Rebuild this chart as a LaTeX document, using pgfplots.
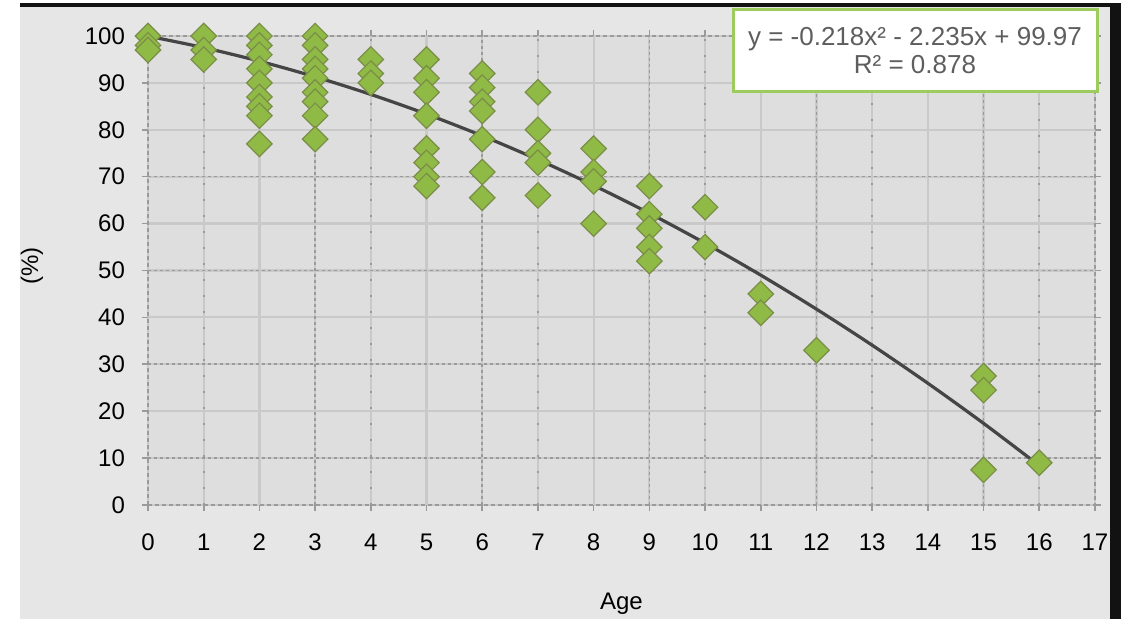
\documentclass[border=0pt]{standalone}
\usepackage{fontspec}
\setmainfont{Liberation Sans}
\usepackage{pgfplots}
\pgfplotsset{compat=1.18}
\definecolor{bgout}{HTML}{E6E6E6}
\definecolor{plotbg}{HTML}{DEDEDE}
\definecolor{gridlt}{HTML}{C9C9C9}
\definecolor{griddk}{HTML}{9A9A9A}
\definecolor{mkfill}{HTML}{8FBA46}
\definecolor{mkdraw}{HTML}{7A8E48}
\definecolor{boxgreen}{HTML}{9CCB5E}
\definecolor{eqtext}{HTML}{5E5E5E}
\definecolor{trend}{HTML}{454545}

\begin{document}
\begin{tikzpicture}
\clip (0pt,0pt) rectangle (566pt,309.5pt);
\fill[white] (0pt,0pt) rectangle (566pt,309.5pt);
\fill[bgout] (10pt,0pt) rectangle (555pt,306pt);
\fill[black!93] (10pt,306pt) rectangle (560.5pt,308pt);
\fill[black!93] (555pt,0pt) rectangle (560.5pt,308pt);
\begin{axis}[at={(74pt,57pt)}, anchor=south west, scale only axis,
  width=473.5pt, height=234.5pt,
  xmin=0, xmax=17, ymin=0, ymax=100,
  xtick={0,...,17}, ytick={0,10,...,100},
  grid=major, major grid style={gridlt, line width=1.1pt},
  axis background/.style={fill=plotbg},
  axis line style={griddk, dash pattern=on 2pt off 1.5pt, line width=1pt},
  tick style={griddk, line width=0.8pt}, major tick length=3pt, tick align=outside,
  ticklabel style={font=\fontsize{12}{14}\selectfont},
  xticklabel style={yshift=-8pt}, yticklabel style={xshift=-5pt},
  /pgf/number format/assume math mode=true,
  xlabel={Age}, ylabel={(\%)},
  label style={font=\fontsize{12}{14}\selectfont},
  xlabel style={at={(axis description cs:0.5,-0.238)}, anchor=south, inner sep=1pt},
  ylabel style={at={(axis description cs:-0.1225,0.51)}, anchor=center},
  clip=false]
% darker dashed grid lines over the light ones
\pgfplotsinvokeforeach{3,6,9,12,15}{\draw[griddk, dash pattern=on 1.5pt off 1.5pt, line width=0.8pt] (axis cs:#1,0) -- (axis cs:#1,100);}
\pgfplotsinvokeforeach{10,30,50,70}{\draw[griddk, dash pattern=on 1.5pt off 1.5pt, line width=0.8pt] (axis cs:0,#1) -- (axis cs:17,#1);}
\pgfplotsinvokeforeach{1,4,7,10,13,16}{\draw[griddk, dash pattern=on 1pt off 7pt, line width=0.8pt] (axis cs:#1,0) -- (axis cs:#1,100);}
\addplot[only marks, mark=square*, mark size=4.5pt,
  mark options={rotate=45, fill=mkfill, draw=mkdraw, line width=0.6pt}]
  coordinates {
  (0,100) (0,98) (0,97)
  (1,100) (1,97) (1,95)
  (2,100) (2,98) (2,96) (2,93) (2,90) (2,87) (2,85) (2,83) (2,77)
  (3,100) (3,98) (3,95) (3,93) (3,91) (3,88) (3,86) (3,83) (3,78)
  (4,95) (4,92) (4,90)
  (5,95) (5,91) (5,88) (5,83) (5,76) (5,73) (5,70) (5,68)
  (6,92) (6,89) (6,86) (6,84) (6,78) (6,71) (6,65.5)
  (7,88) (7,80) (7,75) (7,73) (7,66)
  (8,76) (8,71) (8,69) (8,60)
  (9,68) (9,62) (9,59) (9,55) (9,52)
  (10,63.5) (10,55)
  (11,45) (11,41)
  (12,33)
  (15,27.5) (15,24.5) (15,7.5)
  (16,9)
  };
\addplot[trend, line width=1.6pt, smooth, no marks] coordinates {
  (0,99.97) (1,97.52) (2,94.63) (3,91.30) (4,87.54) (5,83.35) (6,78.71)
  (7,73.64) (8,68.14) (9,62.20) (10,55.82) (11,49.01) (12,41.76)
  (13,34.07) (14,25.95) (15,17.40) (16,8.40)
  };
\end{axis}
\node[draw=boxgreen, line width=1.5pt, fill=white, minimum width=182pt,
  minimum height=41pt, align=center, text=eqtext, inner sep=1pt,
  font=\fontsize{13}{14}\selectfont] at (457.5pt,284pt)
  {y = -0.218x² - 2.235x + 99.97\\R² = 0.878};
\end{tikzpicture}
\end{document}
